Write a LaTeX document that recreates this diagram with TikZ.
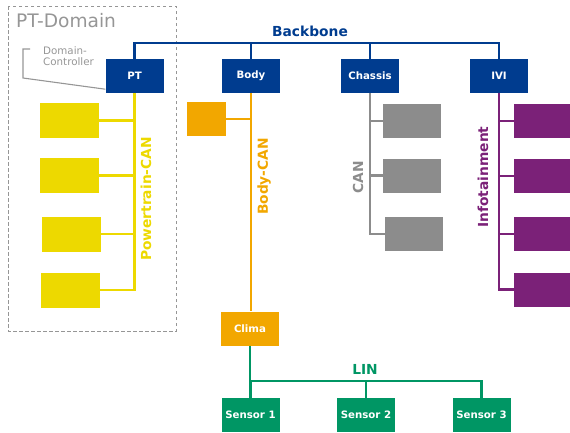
\documentclass[tikz,border=0pt]{standalone}
\usepackage{fontspec}
\setmainfont{DejaVu Sans}
\definecolor{bbblue}{RGB}{0,60,143}
\definecolor{ptyellow}{RGB}{237,217,0}
\definecolor{bodyorange}{RGB}{242,167,0}
\definecolor{chgray}{RGB}{140,140,140}
\definecolor{ivipurple}{RGB}{123,33,120}
\definecolor{lingreen}{RGB}{0,150,100}
\definecolor{domgray}{RGB}{150,150,150}
\begin{document}
\begin{tikzpicture}[x=1pt,y=-1pt,
  ecu/.style={minimum width=58pt, minimum height=34pt, inner sep=0pt, text=white,
    font=\bfseries\fontsize{10.2}{12}\selectfont},
  unit/.style={minimum width=59pt, minimum height=35pt, inner sep=0pt},
  bus/.style={line width=2.3pt},
  buslabel/.style={font=\bfseries\fontsize{13.8}{16}\selectfont, inner sep=0pt}]
\useasboundingbox (0,0) rectangle (570,432);

% PT domain frame
\draw[domgray, dashed, dash pattern=on 3.5pt off 2.5pt, line width=1pt] (8,6) rectangle (176,331);
\node[anchor=base west, text=domgray, font=\fontsize{18.6}{20}\selectfont, inner sep=0pt]
  (domlabel) at (16,27) {PT-Domain};
\node[anchor=north west, align=left, text=domgray, font=\fontsize{10.3}{11.2}\selectfont, inner sep=0pt]
  (dclabel) at (43,46.5) {Domain-\\Controller};

% backbone ECUs
\node[ecu, fill=bbblue] (pt) at (134.5,76) {PT};
\node[ecu, fill=bbblue] (body) at (251,76) {Body};
\node[ecu, fill=bbblue] (chassis) at (370,76) {Chassis};
\node[ecu, fill=bbblue] (ivi) at (499,76) {IVI};

% domain controller pointer
\coordinate (dcstart) at (30,49);
\draw[domgray, line width=1.1pt] (dcstart) -- (23,49) -- (23,78) -- ([yshift=4pt]pt.south west);

% backbone
\coordinate (bb) at (0,42.7);
\draw[bbblue, bus] (pt.north) -- (pt.north |- bb) -- (ivi.north |- bb) -- (ivi.north);
\draw[bbblue, bus] (body.north) -- (body.north |- bb);
\draw[bbblue, bus] (chassis.north) -- (chassis.north |- bb);
\node[buslabel, text=bbblue] (bblabel) at (310,31) {Backbone};

% powertrain CAN
\node[unit, fill=ptyellow] (p1) at (69.5,120.5) {};
\node[unit, fill=ptyellow] (p2) at (69.5,175.5) {};
\node[unit, fill=ptyellow] (p3) at (71.5,234) {};
\node[unit, fill=ptyellow] (p4) at (70.5,290) {};
\draw[ptyellow, bus] (pt.south) -- (pt.south |- p4.east) -- (p4.east);
\foreach \n in {p1,p2,p3} \draw[ptyellow, bus] (\n.east) -- (\n.east -| pt.south);
\node[buslabel, text=ptyellow, rotate=90] (ptlabel) at (146,199) {Powertrain-CAN};

% body CAN
\node[minimum width=39pt, minimum height=34pt, inner sep=0pt, fill=bodyorange] (b1) at (206.5,119) {};
\node[ecu, fill=bodyorange] (clima) at (250,328.5) {Clima};
\draw[bodyorange, bus] (body.south) -- (body.south |- clima.north);
\draw[bodyorange, bus] (b1.east) -- (b1.east -| body.south);
\node[buslabel, text=bodyorange, rotate=90] (bodylabel) at (264,176.5) {Body-CAN};

% chassis CAN
\node[ecu, fill=chgray] (c1) at (412,120.7) {};
\node[ecu, fill=chgray] (c2) at (412,175.5) {};
\node[ecu, fill=chgray] (c3) at (414,234) {};
\draw[chgray, bus] (chassis.south) -- (chassis.south |- c3.west) -- (c3.west);
\foreach \n in {c1,c2} \draw[chgray, bus] (\n.west) -- (\n.west -| chassis.south);
\node[buslabel, text=chgray, rotate=90] (canlabel) at (358,177) {CAN};

% infotainment
\node[ecu, fill=ivipurple] (i1) at (543,121) {};
\node[ecu, fill=ivipurple] (i2) at (543,176) {};
\node[ecu, fill=ivipurple] (i3) at (543,234) {};
\node[ecu, fill=ivipurple] (i4) at (543,289.5) {};
\draw[ivipurple, bus] (ivi.south) -- (ivi.south |- i4.west) -- (i4.west);
\foreach \n in {i1,i2,i3} \draw[ivipurple, bus] (\n.west) -- (\n.west -| ivi.south);
\node[buslabel, text=ivipurple, rotate=90] (ivilabel) at (483,177) {Infotainment};

% LIN
\node[ecu, fill=lingreen] (s1) at (250.5,415) {Sensor 1};
\node[ecu, fill=lingreen] (s2) at (366,415) {Sensor 2};
\node[ecu, fill=lingreen] (s3) at (481.5,415) {Sensor 3};
\coordinate (lin) at (0,381);
\draw[lingreen, bus] (clima.south) -- (clima.south |- lin) -- (s3.north |- lin) -- (s3.north);
\draw[lingreen, bus] (s1.north) -- (s1.north |- lin);
\draw[lingreen, bus] (s2.north) -- (s2.north |- lin);
\node[buslabel, text=lingreen] (linlabel) at (365,369) {LIN};
\end{tikzpicture}
\end{document}
